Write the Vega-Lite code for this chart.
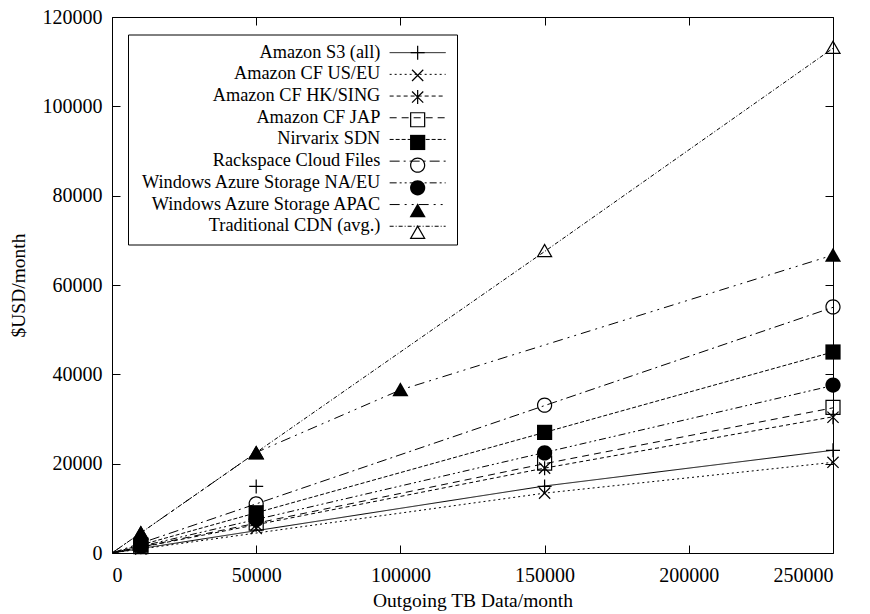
{
  "$schema": "https://vega.github.io/schema/vega-lite/v6.json",
  "width": 721,
  "height": 536,
  "autosize": "none",
  "padding": {"left": 112, "top": 17, "right": 37, "bottom": 61},
  "background": "white",
  "config": {
    "font": "Liberation Serif",
    "view": {"stroke": "black", "strokeWidth": 1},
    "axis": {"grid": false, "domainColor": "black", "tickColor": "black", "labelColor": "black", "titleColor": "black", "labelFont": "Liberation Serif", "titleFont": "Liberation Serif", "labelFontSize": 20, "titleFontSize": 19.5, "titleFontWeight": "normal"}
  },
  "datasets": {
    "lines": [
      {"series": "Amazon S3 (all)", "x": 0, "y": 0},
      {"series": "Amazon S3 (all)", "x": 150000, "y": 15000},
      {"series": "Amazon S3 (all)", "x": 250000, "y": 23000},
      {"series": "Amazon CF US/EU", "x": 0, "y": 0},
      {"series": "Amazon CF US/EU", "x": 150000, "y": 13400},
      {"series": "Amazon CF US/EU", "x": 250000, "y": 20300},
      {"series": "Amazon CF HK/SING", "x": 0, "y": 0},
      {"series": "Amazon CF HK/SING", "x": 150000, "y": 19000},
      {"series": "Amazon CF HK/SING", "x": 250000, "y": 30500},
      {"series": "Amazon CF JAP", "x": 0, "y": 0},
      {"series": "Amazon CF JAP", "x": 150000, "y": 20000},
      {"series": "Amazon CF JAP", "x": 250000, "y": 32500},
      {"series": "Nirvarix SDN", "x": 0, "y": 0},
      {"series": "Nirvarix SDN", "x": 150000, "y": 27000},
      {"series": "Nirvarix SDN", "x": 250000, "y": 45000},
      {"series": "Rackspace Cloud Files", "x": 0, "y": 0},
      {"series": "Rackspace Cloud Files", "x": 150000, "y": 33000},
      {"series": "Rackspace Cloud Files", "x": 250000, "y": 55000},
      {"series": "Windows Azure Storage NA/EU", "x": 0, "y": 0},
      {"series": "Windows Azure Storage NA/EU", "x": 150000, "y": 22500},
      {"series": "Windows Azure Storage NA/EU", "x": 250000, "y": 37500},
      {"series": "Windows Azure Storage APAC", "x": 0, "y": 0},
      {"series": "Windows Azure Storage APAC", "x": 50000, "y": 22500},
      {"series": "Windows Azure Storage APAC", "x": 100000, "y": 36500},
      {"series": "Windows Azure Storage APAC", "x": 250000, "y": 66700},
      {"series": "Traditional CDN (avg.)", "x": 0, "y": 0},
      {"series": "Traditional CDN (avg.)", "x": 150000, "y": 67500},
      {"series": "Traditional CDN (avg.)", "x": 250000, "y": 113000}
    ],
    "points": [
      {"series": "Traditional CDN (avg.)", "x": 10000, "y": 4500},
      {"series": "Traditional CDN (avg.)", "x": 50000, "y": 22500},
      {"series": "Traditional CDN (avg.)", "x": 150000, "y": 67700},
      {"series": "Traditional CDN (avg.)", "x": 250000, "y": 113200},
      {"series": "Amazon S3 (all)", "x": 10000, "y": 1500},
      {"series": "Amazon S3 (all)", "x": 50000, "y": 14900},
      {"series": "Amazon S3 (all)", "x": 150000, "y": 14900},
      {"series": "Amazon S3 (all)", "x": 250000, "y": 23000},
      {"series": "Amazon CF US/EU", "x": 10000, "y": 900},
      {"series": "Amazon CF US/EU", "x": 50000, "y": 5500},
      {"series": "Amazon CF US/EU", "x": 150000, "y": 13400},
      {"series": "Amazon CF US/EU", "x": 250000, "y": 20300},
      {"series": "Amazon CF HK/SING", "x": 10000, "y": 1300},
      {"series": "Amazon CF HK/SING", "x": 50000, "y": 6300},
      {"series": "Amazon CF HK/SING", "x": 150000, "y": 19000},
      {"series": "Amazon CF HK/SING", "x": 250000, "y": 30400},
      {"series": "Amazon CF JAP", "x": 10000, "y": 1400},
      {"series": "Amazon CF JAP", "x": 50000, "y": 6700},
      {"series": "Amazon CF JAP", "x": 150000, "y": 20100},
      {"series": "Amazon CF JAP", "x": 250000, "y": 32600},
      {"series": "Nirvarix SDN", "x": 10000, "y": 1800},
      {"series": "Nirvarix SDN", "x": 50000, "y": 9000},
      {"series": "Nirvarix SDN", "x": 150000, "y": 27000},
      {"series": "Nirvarix SDN", "x": 250000, "y": 45000},
      {"series": "Rackspace Cloud Files", "x": 10000, "y": 2200},
      {"series": "Rackspace Cloud Files", "x": 50000, "y": 11000},
      {"series": "Rackspace Cloud Files", "x": 150000, "y": 33100},
      {"series": "Rackspace Cloud Files", "x": 250000, "y": 55100},
      {"series": "Windows Azure Storage NA/EU", "x": 10000, "y": 1500},
      {"series": "Windows Azure Storage NA/EU", "x": 50000, "y": 7500},
      {"series": "Windows Azure Storage NA/EU", "x": 150000, "y": 22400},
      {"series": "Windows Azure Storage NA/EU", "x": 250000, "y": 37600},
      {"series": "Windows Azure Storage APAC", "x": 10000, "y": 4500},
      {"series": "Windows Azure Storage APAC", "x": 50000, "y": 22400},
      {"series": "Windows Azure Storage APAC", "x": 100000, "y": 36600},
      {"series": "Windows Azure Storage APAC", "x": 250000, "y": 66700}
    ]
  },
  "layer": [
    {
      "data": {"name": "lines"},
      "mark": {"type": "line", "stroke": "black", "strokeWidth": 1, "clip": true},
      "encoding": {
        "x": {"field": "x", "type": "quantitative", "scale": {"domain": [0, 250000], "nice": false},
              "axis": {"orient": "bottom", "values": [0, 50000, 100000, 150000, 200000, 250000], "format": "d", "tickSize": -8, "labelPadding": 20, "title": "Outgoing TB Data/month", "titlePadding": 6, "domain": false}},
        "y": {"field": "y", "type": "quantitative", "scale": {"domain": [0, 120000], "nice": false},
              "axis": {"orient": "left", "values": [0, 20000, 40000, 60000, 80000, 100000, 120000], "format": "d", "tickSize": -8, "labelPadding": 18, "title": "$USD/month", "titlePadding": 14, "domain": false}},
        "strokeDash": {"field": "series", "type": "nominal",
          "sort": ["Amazon S3 (all)", "Amazon CF US/EU", "Amazon CF HK/SING", "Amazon CF JAP", "Nirvarix SDN", "Rackspace Cloud Files", "Windows Azure Storage NA/EU", "Windows Azure Storage APAC", "Traditional CDN (avg.)"],
          "scale": {"range": [[1, 0], [2, 3], [4, 3], [7, 5], [4, 2], [10, 4, 2, 4], [7, 3, 2, 3, 2, 3], [10, 5, 2, 5, 2, 5], [4, 2, 1, 2]]},
          "legend": {"orient": "none", "legendX": 16, "legendY": 17.5, "title": null, "padding": 9, "strokeColor": "black", "symbolType": "M-4,0H4", "symbolSize": 196, "symbolStrokeWidth": 1, "symbolStrokeColor": "black", "symbolOffset": 271.5, "labelAlign": "right", "labelOffset": -46.5, "labelLimit": 400, "labelFont": "Liberation Serif", "labelFontSize": 18.3, "labelColor": "black", "rowPadding": 2.7}}
      }
    },
    {
      "data": {"name": "points"},
      "mark": {"type": "point", "filled": true, "fill": "black", "strokeWidth": 0, "size": 196, "opacity": 1},
      "encoding": {
        "x": {"field": "x", "type": "quantitative", "scale": {"domain": [0, 250000], "nice": false},
              "axis": {"orient": "top", "values": [0, 50000, 100000, 150000, 200000, 250000], "labels": false, "tickSize": -8, "title": null, "domain": false}},
        "y": {"field": "y", "type": "quantitative", "scale": {"domain": [0, 120000], "nice": false},
              "axis": {"orient": "right", "values": [0, 20000, 40000, 60000, 80000, 100000, 120000], "labels": false, "tickSize": -8, "title": null, "domain": false}},
        "shape": {"field": "series", "type": "nominal",
          "sort": ["Amazon S3 (all)", "Amazon CF US/EU", "Amazon CF HK/SING", "Amazon CF JAP", "Nirvarix SDN", "Rackspace Cloud Files", "Windows Azure Storage NA/EU", "Windows Azure Storage APAC", "Traditional CDN (avg.)"],
          "scale": {"range": [
            "M-1,-0.087H1V0.087H-1Z M-0.087,-1H0.087V1H-0.087Z",
            "M-0.7385,-0.8615L0.8615,0.7385L0.7385,0.8615L-0.8615,-0.7385Z M-0.7385,0.8615L-0.8615,0.7385L0.7385,-0.8615L0.8615,-0.7385Z",
            "M-0.7385,-0.8615L0.8615,0.7385L0.7385,0.8615L-0.8615,-0.7385Z M-0.7385,0.8615L-0.8615,0.7385L0.7385,-0.8615L0.8615,-0.7385Z M-0.087,-1H0.087V1H-0.087Z",
            "M-1.087,-1.087H1.087V1.087H-1.087Z M-0.913,-0.913V0.913H0.913V-0.913Z",
            "M-1.087,-1.087H1.087V1.087H-1.087Z",
            "M1.087,0A1.087,1.087,0,1,1,-1.087,0A1.087,1.087,0,1,1,1.087,0Z M0.913,0A0.913,0.913,0,1,0,-0.913,0A0.913,0.913,0,1,0,0.913,0Z",
            "M1.087,0A1.087,1.087,0,1,1,-1.087,0A1.087,1.087,0,1,1,1.087,0Z",
            "M0,-1.04L-1.151,0.953L1.151,0.953Z",
            "M0,-1.04L-1.151,0.953L1.151,0.953Z M0,-0.692L0.849,0.779L-0.849,0.779Z"
          ]},
          "legend": {"orient": "none", "legendX": 16, "legendY": 17.5, "title": null, "padding": 9, "symbolSize": 196, "symbolFillColor": "black", "symbolStrokeColor": "transparent", "symbolStrokeWidth": 1, "symbolOpacity": 1, "symbolOffset": 271.5, "labelAlign": "right", "labelOffset": -46.5, "labelOpacity": 0, "labelLimit": 400, "labelFont": "Liberation Serif", "labelFontSize": 18.3, "rowPadding": 2.7}}
      }
    }
  ],
  "resolve": {"axis": {"x": "independent", "y": "independent"}}
}
